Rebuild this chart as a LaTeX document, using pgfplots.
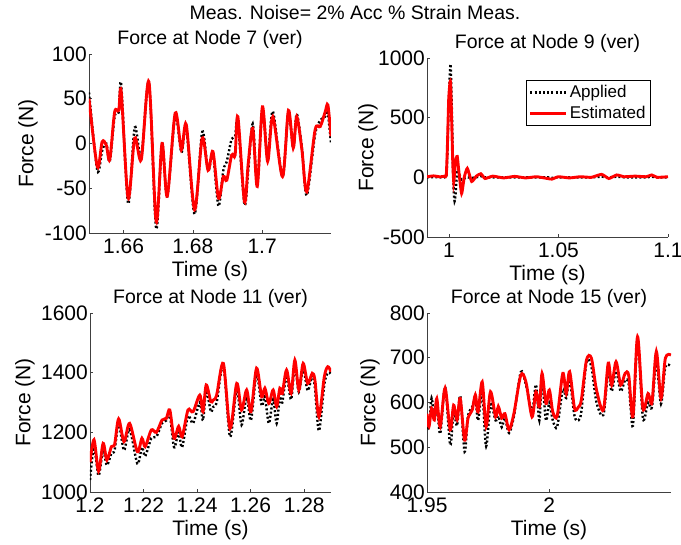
\documentclass[border=0pt]{standalone}
\usepackage{pgfplots}
\usepackage{pgfplotstable}
\pgfplotsset{compat=1.18}
\usepackage{fontspec}
\setmainfont{Liberation Sans}

\pgfplotstableread{
t e a
1.6500 50 57
1.6524 -26 -30
1.6538 2 -8
1.6550 -2 0
1.6560 -18 -20
1.6574 35 30
1.6586 37 35
1.6593 58 66
1.6613 -61 -67
1.6632 6 18
1.6651 -18 -15
1.6673 69 68
1.6694 -87 -95
1.6711 0 0
1.6726 -59 -59
1.6749 34 30
1.6767 -7 -10
1.6781 21 18
1.6805 -74 -79
1.6827 6 13
1.6844 -30 -30
1.6858 -9 -12
1.6874 -61 -70
1.6888 -37 -30
1.6898 -41 -20
1.6912 -13 5
1.6922 -13 8
1.6930 30 25
1.6949 -65 -68
1.6960 -22 -30
1.6973 17 22
1.6986 -48 -45
1.7001 41 38
1.7016 -20 -15
1.7031 30 36
1.7059 -37 -37
1.7076 37 35
1.7090 -5 -5
1.7100 30 33
1.7115 -7 -5
1.7129 -54 -58
1.7153 15 10
1.7168 19 26
1.7182 35 30
1.7190 43 33
1.7199 8 0
}\dataA

\pgfplotstableread{
t e a
0.9900 5 0
0.9930 12 2
0.9960 4 0
0.9980 10 2
0.9988 15 0
0.9993 250 200
0.9999 650 600
1.0005 800 900
1.0008 780 940
1.0013 450 600
1.0018 100 150
1.0022 -40 -120
1.0026 40 -200
1.0030 140 -150
1.0038 175 60
1.0046 40 30
1.0058 -135 -20
1.0070 0 -10
1.0084 75 0
1.0104 -35 -5
1.0125 10 0
1.0146 30 10
1.0165 -10 0
1.0200 10 0
1.0250 -5 0
1.0300 8 0
1.0350 -5 0
1.0400 5 0
1.0450 -10 0
1.0470 -15 -5
1.0500 5 0
1.0550 -5 0
1.0600 5 0
1.0650 0 0
1.0697 25 5
1.0730 -10 0
1.0766 20 5
1.0800 5 0
1.0850 10 0
1.0900 5 0
1.0926 20 5
1.0950 0 0
1.1000 5 0
}\dataB

\pgfplotstableread{
t e a
1.2000 1100 1040
1.2015 1175 1150
1.2032 1070 1055
1.2049 1163 1140
1.2063 1107 1090
1.2080 1152 1130
1.2092 1160 1140
1.2107 1245 1230
1.2127 1169 1140
1.2148 1230 1210
1.2177 1135 1095
1.2194 1180 1150
1.2206 1152 1120
1.2229 1208 1180
1.2248 1200 1185
1.2269 1241 1230
1.2285 1247 1240
1.2298 1275 1260
1.2314 1180 1150
1.2331 1220 1200
1.2344 1185 1150
1.2366 1275 1255
1.2385 1269 1230
1.2410 1325 1300
1.2422 1269 1240
1.2434 1359 1340
1.2451 1303 1270
1.2460 1308 1285
1.2473 1325 1300
1.2498 1431 1425
1.2523 1213 1185
1.2548 1364 1345
1.2566 1275 1225
1.2585 1342 1320
1.2601 1269 1240
1.2622 1415 1395
1.2641 1319 1290
1.2653 1348 1320
1.2668 1297 1230
1.2684 1342 1310
1.2697 1286 1230
1.2709 1348 1320
1.2718 1330 1300
1.2734 1409 1390
1.2751 1331 1310
1.2765 1442 1425
1.2780 1342 1335
1.2796 1431 1415
1.2813 1364 1340
1.2830 1398 1390
1.2840 1375 1350
1.2855 1252 1205
1.2875 1386 1360
1.2888 1420 1400
1.2900 1403 1395
}\dataC

\pgfplotstableread{
t e a
1.9500 575 555
1.9508 546 545
1.9519 587 610
1.9530 561 560
1.9540 609 600
1.9554 546 530
1.9574 632 635
1.9595 539 505
1.9609 594 580
1.9623 561 548
1.9636 609 615
1.9654 516 490
1.9668 565 570
1.9685 583 590
1.9698 617 610
1.9709 579 560
1.9726 646 620
1.9742 546 502
1.9760 624 595
1.9781 568 560
1.9792 591 570
1.9806 565 545
1.9819 575 565
1.9836 539 532
1.9856 576 570
1.9884 661 668
1.9905 646 640
1.9930 568 580
1.9946 624 640
1.9960 590 560
1.9971 665 650
1.9987 598 560
2.0001 628 600
2.0015 579 560
2.0033 570 546
2.0056 665 630
2.0070 620 610
2.0084 669 650
2.0104 587 570
2.0120 590 560
2.0132 606 580
2.0153 695 690
2.0173 699 680
2.0194 628 600
2.0222 583 572
2.0242 688 670
2.0256 639 625
2.0274 691 670
2.0293 639 625
2.0311 665 650
2.0326 660 640
2.0343 568 548
2.0362 747 740
2.0384 587 565
2.0405 620 600
2.0421 600 590
2.0439 714 690
2.0458 609 597
2.0476 699 680
2.0499 706 680
}\dataD

\pgfplotsset{
  myax/.style={
    scale only axis, height=179pt,
    axis x line*=bottom, axis y line*=left,
    tick align=inside, major tick length=3pt,
    /pgf/number format/assume math mode=true,
    ticklabel style={font=\fontsize{21}{21}\selectfont, inner sep=2pt},
    xticklabel style={yshift=-4pt},
    label style={font=\fontsize{21}{21}\selectfont},
    every axis title shift=0pt,
    title style={font=\fontsize{19.5}{19.5}\selectfont, at={(0.5,1.082)}, anchor=center},
    xlabel={Time (s)}, ylabel={Force (N)},
    xlabel style={at={(axis description cs:0.5,-0.21)}, anchor=center},
    axis line style={line width=0.8pt, black!75},
    every tick/.style={black!75, line width=0.6pt},
    legend image code/.code={\draw[#1] (0pt,0pt) -- (36pt,0pt);},
  },
  app/.style={black, line width=2.4pt, dash pattern=on 2pt off 2.2pt, smooth, tension=0.5},
  est/.style={red, line width=2.9pt, smooth, tension=0.5},
}

\begin{document}
\begin{tikzpicture}
\useasboundingbox (0,0) rectangle (681pt,545pt);
\node[font=\fontsize{19.5}{19.5}\selectfont] at (355pt,532pt) {Meas. Noise= 2\% Acc \% Strain Meas.};

% Node 7
\begin{axis}[myax, at={(89pt,312pt)}, anchor=south west, width=242pt,
  xmin=1.65, xmax=1.7199, ymin=-100, ymax=100,
  xtick={1.66,1.68,1.7}, xticklabels={1.66,1.68,1.7},
  ytick={-100,-50,0,50,100}, yticklabels={-100,-50,0,50,100},
  ylabel style={at={(axis description cs:-0.252,0.5)}, anchor=center},
  title={Force at Node 7 (ver)}]
\addplot[app] table[x=t,y=a] {\dataA};
\addplot[est] table[x=t,y=e] {\dataA};
\end{axis}

% Node 9
\begin{axis}[myax, at={(427pt,308pt)}, anchor=south west, width=241pt,
  xmin=0.99, xmax=1.1, ymin=-500, ymax=1000,
  xtick={1,1.05,1.1}, xticklabels={1,1.05,1.1},
  ytick={-500,0,500,1000}, yticklabels={-500,0,500,1000},
  ylabel style={at={(axis description cs:-0.245,0.5)}, anchor=center},
  title={Force at Node 9 (ver)},
  legend style={at={(0.929,0.877)}, anchor=north east, draw=black, line width=0.8pt,
    font=\fontsize{17}{17}\selectfont, inner sep=3pt, row sep=3pt, cells={anchor=west}}]
\addplot[app, tension=0.3] table[x=t,y=a] {\dataB};
\addlegendentry{Applied}
\addplot[est, tension=0.3] table[x=t,y=e] {\dataB};
\addlegendentry{Estimated}
\end{axis}

% Node 11
\begin{axis}[myax, at={(90pt,53pt)}, anchor=south west, width=241pt,
  xmin=1.2, xmax=1.29, ymin=1000, ymax=1600,
  xtick={1.2,1.22,1.24,1.26,1.28}, xticklabels={1.2,1.22,1.24,1.26,1.28},
  ytick={1000,1200,1400,1600}, yticklabels={1000,1200,1400,1600},
  ylabel style={at={(axis description cs:-0.27,0.5)}, anchor=center},
  title={Force at Node 11 (ver)}]
\addplot[app] table[x=t,y=a] {\dataC};
\addplot[est] table[x=t,y=e] {\dataC};
\end{axis}

% Node 15
\begin{axis}[myax, at={(427pt,53pt)}, anchor=south west, width=244pt,
  xmin=1.95, xmax=2.0499, ymin=400, ymax=800,
  xtick={1.95,2}, xticklabels={1.95,2},
  ytick={400,500,600,700,800}, yticklabels={400,500,600,700,800},
  ylabel style={at={(axis description cs:-0.234,0.5)}, anchor=center},
  title={Force at Node 15 (ver)}]
\addplot[app] table[x=t,y=a] {\dataD};
\addplot[est] table[x=t,y=e] {\dataD};
\end{axis}
\end{tikzpicture}
\end{document}
